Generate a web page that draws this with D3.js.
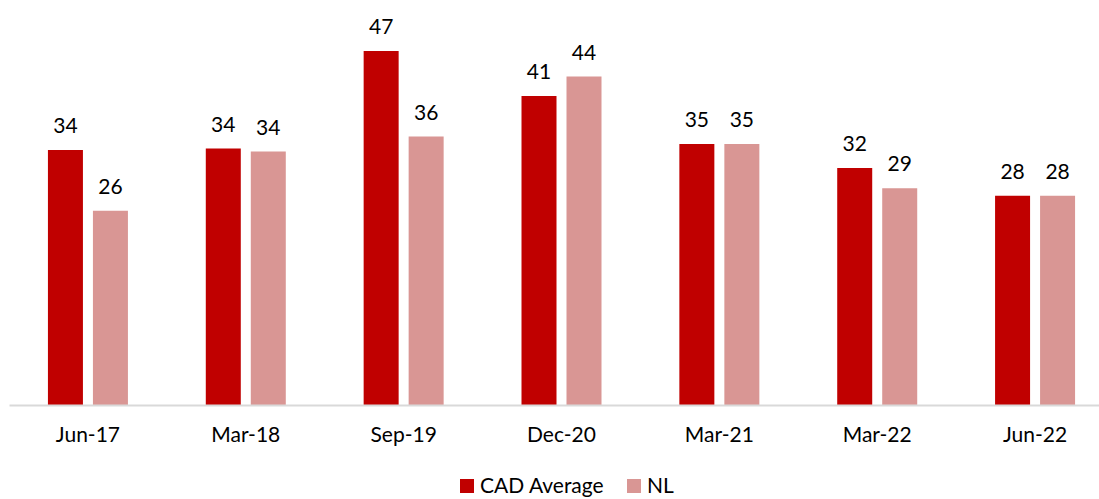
<!DOCTYPE html>
<html>
<head>
<meta charset="utf-8">
<script src="https://cdn.jsdelivr.net/npm/d3@7"></script>
<style>
  body { margin: 0; background: #fff; }
  svg text { font-family: Lato, "Open Sans", sans-serif; fill: #000; }
</style>
</head>
<body>
<svg width="1099" height="499"></svg>
<script>
// values
var periods = ["Jun-17", "Mar-18", "Sep-19", "Dec-20", "Mar-21", "Mar-22", "Jun-22"];
var cadAverage = [34.0, 34.2, 47.2, 41.2, 34.8, 31.6, 27.9];
var nl = [25.9, 33.8, 35.8, 43.8, 34.8, 28.9, 27.9];
var seriesNames = ["CAD Average", "NL"];
var colors = ["#C00000", "#D99694"];

var svg = d3.select("svg"),
    baseY = 405;

var xScale = d3.scaleBand().domain(periods).range([9, 1114]);
var yScale = d3.scaleLinear().domain([0, 50]).range([baseY, baseY - 375]);
var inner = d3.scaleBand().domain(seriesNames).range([0, 80]).paddingInner(2 / 9);

var rows = periods.map(function(p, i) {
    return { period: p, vals: [cadAverage[i], nl[i]] };
});

var g = svg.append("g");

var grp = g.selectAll(".grp")
    .data(rows)
    .enter().append("g")
    .attr("transform", function(d) {
        return "translate(" + (xScale(d.period) + xScale.bandwidth() / 2 - 40) + ",0)";
    });

grp.selectAll("rect")
    .data(function(d) { return d.vals.map(function(v, j) { return { v: v, s: seriesNames[j], c: colors[j] }; }); })
    .enter().append("rect")
    .attr("x", function(d) { return inner(d.s); })
    .attr("width", inner.bandwidth())
    .attr("y", function(d) { return yScale(d.v); })
    .attr("height", function(d) { return baseY - yScale(d.v); })
    .style("fill", function(d) { return d.c; });

grp.selectAll(".lbl")
    .data(function(d) { return d.vals.map(function(v, j) { return { v: v, s: seriesNames[j] }; }); })
    .enter().append("text")
    .attr("class", "lbl")
    .attr("x", function(d) { return inner(d.s) + inner.bandwidth() / 2; })
    .attr("y", function(d) { return yScale(d.v) - 17; })
    .attr("text-anchor", "middle")
    .style("font-size", "21px")
    .text(function(d) { return Math.round(d.v); });

// x axis
var xAxis = g.append("g")
    .attr("transform", "translate(0," + baseY + ")")
    .call(d3.axisBottom(xScale).tickSize(0).tickPadding(22));
xAxis.select(".domain").attr("stroke", "#d9d9d9").attr("stroke-width", 2);
xAxis.selectAll("text")
    .style("font-size", "21px")
    .style("font-family", "Lato, 'Open Sans', sans-serif");

// legend (lifted a little so the text is not cut by the bottom edge)
var legend = svg.append("g");
var legendX = [460, 627];
seriesNames.forEach(function(name, i) {
    legend.append("rect")
        .attr("x", legendX[i])
        .attr("y", 479)
        .attr("width", 14)
        .attr("height", 14)
        .style("fill", colors[i]);
    legend.append("text")
        .attr("x", legendX[i] + 20)
        .attr("y", 493)
        .style("font-size", "21px")
        .text(name);
});
</script>
</body>
</html>
